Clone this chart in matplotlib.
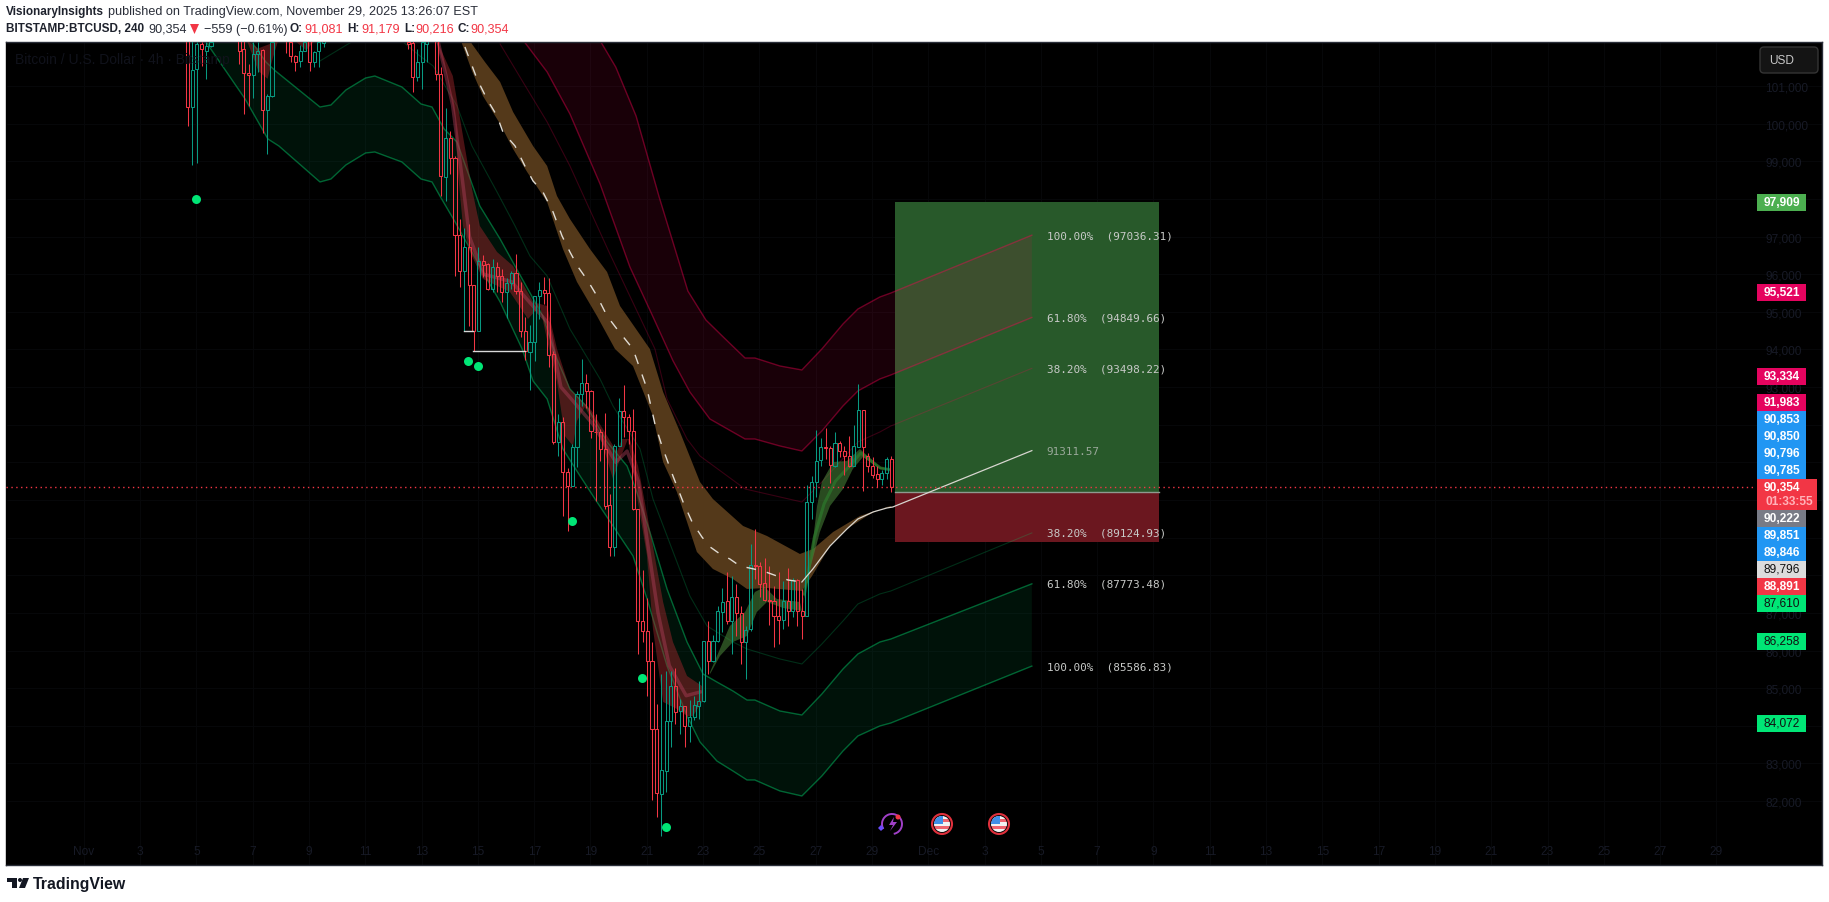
import numpy as np
import matplotlib
matplotlib.use('Agg')
import matplotlib.pyplot as plt
from matplotlib.patches import Circle, FancyBboxPatch, Polygon, Rectangle, Arc

plt.rcParams['font.family'] = ['Liberation Sans', 'DejaVu Sans']

nan = np.nan
W, H = 1829, 903

# 4h candles, days are counted from Oct 31 (1 = Nov 1). nan = above the visible range
last_candle_day = 29.686
candle_open = [
    102300, 100450, 101450, 102120, 101930, 102050, nan, nan, nan, nan,
    nan, 102300, 101970, 101340, 101280, 101850, 101960, 100350, 100730, nan,
    nan, 102500, 102160, 101810, 101670, 101940, 102300, 101630, 101940, 102140,
    nan, nan, nan, nan, nan, nan, nan, nan, nan, nan,
    nan, nan, nan, nan, nan, nan, nan, 102160, 102140, 101250,
    101630, 102120, nan, 102300, 101320, 98570, 99610, 99080, 97050, 96090,
    96710, 95700, 94500, 96340, 96270, 95610, 96180, 95940, 95520, 95760,
    96020, 95560, 94480, 93940, 94190, 95430, 95570, 95500, 93880, 91550,
    92080, 90735, 90381, 91399, 92816, 93109, 92905, 91816, 91798, 91355,
    89867, 88760, 91443, 92356, 92196, 91824, 89761, 86793, 86510, 85713,
    83915, 82188, 82808, 84119, 85049, 84385, 84517, 84004, 84225, 84535,
    84668, 86244, 85713, 86244, 87015, 87307, 86793, 87414, 86988, 86218,
    86572, 88281, 88255, 87786, 87352, 87325, 86927, 86820, 87325, 87041,
    87883, 87059, 86927, 89938, 90469, 91071, 91399, 91381, 90912, 91505,
    91311, 91178, 90894, 91399, 92382, 91160, 90894, 90682, 90558, 90708,
    91081]
candle_high = [
    102500, 102300, 102160, 102160, 102160, 102300, nan, nan, nan, nan,
    nan, 102500, 102300, 101590, 102160, 102160, 101980, 100800, 102300, nan,
    nan, 102600, 102300, 101820, 102100, 102300, 102500, 101940, 102300, 102400,
    nan, nan, nan, nan, nan, nan, nan, nan, nan, nan,
    nan, nan, nan, nan, nan, nan, nan, 102300, 102300, 101970,
    102160, 102400, nan, 102500, 101500, 100410, 99800, 99130, 97470, 97230,
    97330, 95700, 96710, 96510, 96300, 96400, 96320, 96140, 95900, 96090,
    96540, 95780, 94850, 94650, 95430, 95780, 95920, 95890, 93950, 92285,
    92196, 90841, 91488, 92905, 93746, 93348, 92931, 92285, 91886, 92311,
    90159, 91488, 92701, 93055, 92285, 92418, 89761, 88140, 87387, 86236,
    84579, 85376, 85465, 85465, 85527, 84712, 84535, 84694, 84801, 85199,
    86262, 86793, 86413, 87192, 87653, 88078, 87989, 87768, 87192, 86660,
    88831, 89229, 88344, 88450, 88255, 87723, 88078, 87856, 88193, 87918,
    87900, 87635, 90398, 90629, 91860, 91638, 91904, 91443, 91815, 91576,
    91443, 91691, 91993, 93082, 92391, 91249, 91133, 90912, 90806, 91133,
    91179]
candle_low = [
    99930, 98900, 98950, 101540, 101190, 102030, nan, nan, nan, nan,
    nan, 101590, 100260, 100480, 100670, 101360, 99750, 99190, 100700, nan,
    nan, 101880, 101650, 101410, 101500, 101940, 101410, 101500, 101500, 102030,
    nan, nan, nan, nan, nan, nan, nan, nan, nan, nan,
    nan, nan, nan, nan, nan, nan, nan, 101980, 100830, 101140,
    100920, 101650, nan, 101170, 98090, 97950, 98660, 95940, 95650, 94480,
    94630, 93950, 94500, 95920, 95590, 95520, 95520, 95250, 94830, 95610,
    95470, 94340, 93730, 92930, 93700, 94810, 95210, 93530, 91490, 91178,
    89583, 89185, 90381, 90868, 92506, 92435, 91638, 89982, 91045, 89761,
    88521, 88503, 91443, 91665, 91488, 89734, 85908, 86236, 84801, 82037,
    81568, 81063, 82232, 83428, 84048, 83782, 83446, 83578, 84163, 84181,
    84641, 85376, 85686, 86218, 86484, 86705, 85908, 86395, 85642, 85243,
    86528, 87901, 87414, 87325, 86678, 86085, 86174, 86572, 86660, 86882,
    86660, 86306, 86927, 89495, 90071, 90912, 91089, 90451, 90868, 91133,
    90664, 90868, 90894, 91399, 90248, 90735, 90575, 90336, 90398, 90558,
    90216]
candle_close = [
    100450, 101430, 102120, 101980, 102050, 102160, nan, nan, nan, nan,
    nan, 101940, 101340, 101280, 101850, 101940, 100350, 100730, 102160, nan,
    nan, 102300, 101810, 101650, 101940, 102160, 101630, 101910, 102160, 102300,
    nan, nan, nan, nan, nan, nan, nan, nan, nan, nan,
    nan, nan, nan, nan, nan, nan, nan, 102120, 101250, 101630,
    102160, 102300, nan, 101320, 98620, 99610, 99080, 97050, 96090, 96710,
    95700, 94480, 96340, 96250, 95610, 96180, 95940, 95520, 95760, 96020,
    95560, 94480, 93950, 94190, 95410, 95570, 95490, 93840, 91550, 92080,
    90735, 90381, 91399, 92816, 93109, 92905, 91824, 91798, 91355, 89849,
    88760, 91443, 92356, 92196, 91824, 89761, 86793, 86510, 85713, 83915,
    82206, 82835, 84119, 85049, 84358, 84517, 84004, 84225, 84553, 84668,
    86262, 85713, 86262, 87041, 87281, 86793, 87414, 86988, 86218, 86555,
    88281, 88255, 87768, 87352, 87325, 86927, 86820, 87325, 87059, 87883,
    87059, 86927, 89938, 90469, 91045, 91399, 91381, 90939, 91505, 91311,
    91178, 90894, 91426, 92382, 91399, 90894, 90664, 90558, 90717, 91080,
    90354]

green_lo_day = [5.2, 5.43, 6.73, 7.54, 7.93, 9.39, 9.78, 10.31, 11.01, 11.34, 12.30, 12.98, 13.37, 13.65, 14.19,
                15.18, 15.79, 16.57, 16.96, 17.46, 18.02, 18.63, 19.23, 19.80, 20.51, 21.01, 21.72, 22.43, 22.89,
                23.49, 24.06, 24.56, 24.84, 25.73, 26.51, 27.22, 27.97, 28.50, 29.28, 29.67, 34.68]
green_lo = [102500, 102071, 100655, 99592, 99406, 98450, 98529, 98901, 99220, 99247, 98981, 98529, 98450, 98078, 97387,
            96058, 95261, 94013, 93162, 92684, 91356, 90638, 89947, 89310, 88513, 87370, 85590, 84261, 83570,
            83065, 82800, 82561, 82561, 82269, 82136, 82667, 83331, 83730, 83996, 84075, 85587]
green_up_day = [5.2, 6.55, 6.97, 7.47, 7.81, 9.39, 9.78, 10.31, 11.01, 11.34, 12.30, 12.98, 13.37, 13.80, 14.26,
                15.07, 15.79, 16.32, 17.31, 17.81, 18.27, 18.88, 19.59, 20.30, 20.65, 21.11, 21.72, 22.43, 23.00,
                23.49, 24.06, 24.56, 24.84, 25.73, 26.51, 27.22, 27.97, 28.50, 29.28, 29.67, 34.68]
green_up = [103500, 102515, 102170, 101638, 101399, 100442, 100496, 100894, 101213, 101266, 100974, 100522, 100442, 99858, 99512,
            97812, 96935, 96218, 94889, 93747, 92950, 92471, 91541, 90904, 90213, 89150, 87636, 86227, 85377,
            85165, 84926, 84686, 84686, 84394, 84288, 84846, 85510, 85909, 86227, 86307, 87773]
green_mid_day = [9.39, 10.39, 11.34, 12.30, 12.94, 13.41, 14.26, 14.79, 15.68, 16.32, 16.85, 17.46, 18.27, 18.70, 19.34,
                 19.80, 20.76, 21.22, 21.72, 22.53, 23.14, 24.06, 24.56, 25.73, 26.51, 27.22, 27.97, 28.50, 29.28, 29.67, 34.68]
green_mid = [101665, 102116, 102515, 102196, 101798, 101532, 100469, 99406, 98184, 97281, 96483, 95952, 94544, 94013, 93215,
             92498, 91356, 90027, 89044, 87450, 86653, 86228, 86042, 85776, 85643, 86174, 86785, 87237, 87503, 87583, 89125]

red_up_day = [18.7, 19.37, 19.9, 20.62, 21.44, 22.46, 23.10, 23.79, 24.49, 24.84, 25.73, 26.51, 27.22, 27.97, 28.50, 29.28, 29.67, 34.68]
red_up = [103000, 102170, 101500, 100203, 98051, 95553, 94783, 94278, 93773, 93773, 93561, 93455, 94013, 94677, 95075, 95394, 95500, 97036]
red_lo_day = [16.3, 16.68, 17.46, 18.27, 19.34, 20.40, 21.2, 21.93, 22.53, 23.24, 24.49, 24.84, 25.73, 26.51, 27.22, 27.97, 28.50, 29.28, 29.67, 34.68]
red_lo = [103000, 102143, 101372, 100256, 98397, 96191, 94900, 93700, 92870, 92153, 91621, 91621, 91435, 91302, 91834, 92498, 92897, 93215, 93322, 94850]
red_mid_day = [15.79, 16.60, 17.46, 18.27, 19.69, 21.29, 21.72, 22.43, 22.89, 24.49, 26.51, 27.22, 28.50, 29.28, 29.67, 34.68]
red_mid = [102116, 101107, 100044, 98875, 96537, 94013, 92684, 91621, 91170, 90293, 89947, 90479, 91542, 91807, 91967, 93498]

brown_lo_day = [14.2, 14.44, 14.79, 15.18, 15.79, 16.25, 16.75, 17.46, 18.02, 18.52, 19.23, 19.87, 20.51, 21.22, 21.58, 22.07,
                22.43, 22.78, 23.35, 24.06, 24.56, 25.27, 26.51, 26.87, 27.51, 28.11, 28.82, 29.28, 29.67]
brown_lo = [102700, 102116, 101399, 100735, 99991, 99327, 98715, 97918, 96670, 95793, 94889, 94013, 93561, 92232, 91010, 90213,
            89416, 88619, 88167, 87901, 87636, 87662, 87583, 87981, 88778, 89230, 89575, 89761, 89814]
brown_up_day = [14.4, 14.79, 15.25, 15.79, 16.25, 16.96, 17.46, 17.81, 18.27, 18.98, 19.59, 20.05, 21.11, 21.58, 22.18, 22.89,
                23.35, 24.42, 25.27, 26.44, 26.91, 27.62, 28.57, 29.53, 29.67]
brown_up = [102700, 102116, 101638, 101107, 100310, 99406, 98875, 98078, 97467, 96670, 96058, 95155, 94013, 92870, 91807, 90479,
            90027, 89310, 89044, 88566, 88698, 89150, 89575, 89814, 89841]

basis_dash_day = [14.54, 14.97, 15.32, 15.68, 15.89, 16.32, 16.67, 16.96, 17.31, 17.67, 17.99, 18.27, 18.56, 18.91, 19.23, 19.59, 19.94,
                  20.51, 21.01, 21.29, 21.54, 21.93, 22.29, 22.61, 22.96, 23.25, 23.60, 23.95, 24.31, 25.13, 25.62, 26.01, 26.51]
basis_dash = [102037, 101186, 100655, 100203, 99778, 99406, 98875, 98476, 98184, 97653, 97015, 96590, 96191, 95819, 95421, 94889, 94544,
              94013, 92950, 92020, 91435, 90638, 89947, 89416, 89017, 88752, 88566, 88433, 88247, 88114, 87981, 87875, 87822]
basis_day = [26.51, 26.90, 27.51, 28.11, 28.50, 29.04, 29.53, 29.74, 34.68]
basis = [87822, 88167, 88778, 89230, 89496, 89682, 89788, 89814, 91312]

ribbon_r_up_day = [13.58, 14.11, 14.47, 14.79, 15.07, 15.68, 16.25, 16.96, 17.46, 17.81, 18.27, 19.05, 19.44, 19.94, 20.12, 20.40,
                   20.69, 21.04, 21.58, 21.93, 22.43, 22.96]
ribbon_r_up = [102143, 101266, 99672, 98264, 97281, 96590, 96218, 95261, 95155, 94013, 92950, 92365, 91887, 91276, 91621, 91621,
               90904, 89496, 87290, 86227, 85324, 85058]
ribbon_r_lo_day = [13.55, 13.90, 14.19, 14.29, 14.47, 14.72, 15.18, 16.14, 16.78, 17.20, 17.49, 17.81, 18.09, 18.38, 18.52, 18.80, 19.34,
                   19.80, 20.05, 20.33, 20.65, 21.01, 21.22, 21.58, 22.07, 22.43, 22.64, 22.96]
ribbon_r_lo = [102143, 101266, 100124, 98715, 97281, 96590, 95873, 95527, 94810, 95155, 94145, 93136, 91701, 91435, 92100, 92471, 91701,
               90558, 91090, 91621, 90107, 88513, 86573, 84633, 84447, 84261, 84261, 84633]
ribbon_r_mid_day = [13.6, 14.1, 14.45, 14.7, 15.2, 16.2, 16.9, 17.5, 17.95, 18.3, 19.1, 19.9, 20.3, 20.7, 21.0, 21.4, 21.8, 22.4, 22.9]
ribbon_r_mid = [102143, 100500, 98500, 97000, 96000, 95800, 95200, 94700, 93000, 92700, 92000, 91000, 91300, 90500, 89000, 87000, 85600, 84800, 84900]
blob_up_day = [6.8, 7.2, 7.9]
blob_up = [102200, 102000, 102200]
blob_lo_day = [6.8, 7.2, 7.53, 7.7, 7.9]
blob_lo = [102200, 101400, 101190, 101700, 102200]
blob2_up_day = [8.5, 9.2]
blob2_up = [102200, 102200]
blob2_lo_day = [8.5, 8.9, 9.2]
blob2_lo = [102200, 101950, 102200]

ribbon_g1_up_day = [23.25, 23.95, 24.49, 24.84, 25.19, 25.62, 26.44]
ribbon_g1_up = [85430, 86652, 87024, 87556, 87689, 87370, 87290]
ribbon_g1_lo_day = [23.25, 23.60, 24.06, 24.56, 24.91, 25.27, 25.84, 26.51]
ribbon_g1_lo = [85377, 85855, 86227, 86387, 87024, 87290, 87131, 87051]
ribbon_g2_up_day = [26.51, 26.87, 27.05, 27.22, 27.62, 28.11, 28.57, 29.28, 29.64]
ribbon_g2_up = [87104, 88698, 89841, 90479, 91010, 91037, 91356, 90877, 90824]
ribbon_g2_lo_day = [26.51, 26.80, 27.15, 27.51, 27.97, 28.32, 28.68, 29.28, 29.64]
ribbon_g2_lo = [87104, 88167, 89150, 89841, 90292, 90824, 91143, 90824, 90797]
ribbon_g2_mid_day = [26.6, 26.95, 27.3, 27.7, 28.2, 28.6, 29.3, 29.6]
ribbon_g2_mid = [87500, 89000, 89900, 90500, 90900, 91250, 90850, 90810]

dot_day = [4.99, 14.65, 15.0, 18.34, 20.83, 21.68]
dot_price = [97998, 93694, 93561, 89443, 85271, 81312]
step_day = [[14.52, 14.84], [14.84, 16.67]]
step_price = [94491, 93951]

pos_day = [29.82, 39.2]
pos_target, pos_entry, pos_stop = 97909, 90222, 88891
last_price = 90354

fib_labels = ['100.00%  (97036.31)', '61.80%  (94849.66)', '38.20%  (93498.22)', '91311.57',
              '38.20%  (89124.93)', '61.80%  (87773.48)', '100.00%  (85586.83)']
fib_prices = [97036.31, 94849.66, 93498.22, 91311.57, 89124.93, 87773.48, 85586.83]
fib_day = 35.21

price_ticks = [82000, 83000, 84000, 85000, 86000, 87000, 88000, 89000, 90000, 91000,
               92000, 93000, 94000, 95000, 96000, 97000, 98000, 99000, 100000, 101000]
# these sit fully behind the price tags on the right
covered_ticks = [84000, 88000, 89000, 90000, 91000, 92000]
day_ticks = list(range(1, 61, 2))
day_labels = ['Nov', '3', '5', '7', '9', '11', '13', '15', '17', '19', '21', '23', '25', '27', '29',
              'Dec', '3', '5', '7', '9', '11', '13', '15', '17', '19', '21', '23', '25', '27', '29']

axis_labels = ['97,909', '95,521', '93,334', '91,983', '90,853', '90,850', '90,796', '90,785',
               '90,222', '89,851', '89,846', '89,796', '88,891', '87,610', '86,258', '84,072']
axis_label_y = [203, 293, 377, 403, 420, 437, 454, 471, 519, 536, 553, 570, 587, 604, 642, 724]
axis_label_bg = ['#4caf50', '#e5045f', '#e5045f', '#e5045f', '#2196f3', '#2196f3', '#2196f3', '#2196f3',
                 '#787b86', '#2196f3', '#2196f3', '#dcdcdc', '#f23645', '#00e676', '#00e676', '#00e676']
axis_label_fg = ['white'] * 11 + ['#111111', 'white', '#111111', '#111111', '#111111']

UP, DOWN = '#089981', '#f23645'
RED_BAND, GREEN_BAND = '#ff0055', '#00e676'


def band(ax, xu, yu, xl, yl, color, alpha, line_alpha=None, lw=0.9, z=2):
    ax.fill(list(xu) + list(xl)[::-1], list(yu) + list(yl)[::-1], color=color, alpha=alpha, lw=0, zorder=z)
    if line_alpha:
        ax.plot(xu, yu, color=color, alpha=line_alpha, lw=lw, zorder=z)
        ax.plot(xl, yl, color=color, alpha=line_alpha, lw=lw, zorder=z)


def plot_candles(ax):
    days = last_candle_day - (len(candle_open) - 1 - np.arange(len(candle_open))) / 6
    for d, o, h, l, c in zip(days, candle_open, candle_high, candle_low, candle_close):
        if np.isnan(o):
            continue
        color = UP if c >= o else DOWN
        ax.plot([d, d], [max(o, c), h], color=color, lw=0.75, zorder=4, solid_capstyle='butt')
        ax.plot([d, d], [min(o, c), l], color=color, lw=0.75, zorder=4, solid_capstyle='butt')
        ax.bar(d, abs(c - o), bottom=min(o, c), width=0.11, facecolor='none', edgecolor=color, lw=0.75, zorder=4)


fig = plt.figure(figsize=(W / 100, H / 100), dpi=100, facecolor='white')
ax = fig.add_axes([6 / W, 1 - 866 / H, (1822 - 6) / W, (866 - 43) / H], facecolor='black')
ax.set_xlim(-1.764, 62.75)
ax.set_ylim(80302, 102169)

ax.fill_between(pos_day, pos_entry, pos_target, color='#28592a', lw=0, zorder=1)
ax.fill_between(pos_day, pos_stop, pos_entry, color='#6b171f', lw=0, zorder=1)
ax.plot(pos_day, [pos_entry, pos_entry], color='#8f9a8f', lw=1, zorder=1.5)

band(ax, red_up_day, red_up, red_lo_day, red_lo, RED_BAND, 0.1, 0.4, 1.0)
band(ax, green_up_day, green_up, green_lo_day, green_lo, GREEN_BAND, 0.08, 0.42, 1.0)
ax.plot(red_mid_day, red_mid, color=RED_BAND, alpha=0.22, lw=0.8, zorder=2)
ax.plot(green_mid_day, green_mid, color=GREEN_BAND, alpha=0.2, lw=0.8, zorder=2)
band(ax, brown_up_day, brown_up, brown_lo_day, brown_lo, '#54391a', 1.0)

band(ax, ribbon_r_up_day, ribbon_r_up, ribbon_r_lo_day, ribbon_r_lo, '#a8282e', 0.45, z=3)
band(ax, blob_up_day, blob_up, blob_lo_day, blob_lo, '#a8282e', 0.45, z=3)
band(ax, blob2_up_day, blob2_up, blob2_lo_day, blob2_lo, '#a8282e', 0.45, z=3)
ax.plot(ribbon_r_mid_day, ribbon_r_mid, color='#b0405a', lw=2.5, alpha=0.45, zorder=3)
band(ax, ribbon_g1_up_day, ribbon_g1_up, ribbon_g1_lo_day, ribbon_g1_lo, '#4c8a3c', 0.55, z=3)
band(ax, ribbon_g2_up_day, ribbon_g2_up, ribbon_g2_lo_day, ribbon_g2_lo, '#4c8a3c', 0.55, z=3)
ax.plot(ribbon_g2_mid_day, ribbon_g2_mid, color='#2c7a2c', lw=2.2, alpha=0.7, zorder=3)

plot_candles(ax)

ax.plot(basis_dash_day, basis_dash, color='#e0dcd4', lw=1.0, dashes=(7, 8), zorder=5)
ax.plot(basis_day, basis, color='#d8d6d0', lw=0.9, zorder=5)
for days, p in zip(step_day, step_price):
    ax.plot(days, [p, p], color='#d8d8d8', lw=1.0, zorder=5)
ax.scatter(dot_day, dot_price, s=42, color='#00e676', lw=0, zorder=6)
ax.axhline(last_price, xmax=(1753 - 6) / (1822 - 6), color='#f23645', lw=1, dashes=(1, 2.5), zorder=5)

for label, p in zip(fib_labels, fib_prices):
    col = '#9aa89a' if label == '91311.57' else '#c8cac8'
    ax.text(fib_day, p, label, family='DejaVu Sans Mono', fontsize=7.9, color=col, va='center', ha='left', zorder=7)

ax.set_xticks(day_ticks, day_labels)
ax.set_yticks(price_ticks, ['' if p in covered_ticks else '{:,}'.format(p) for p in price_ticks])
ax.yaxis.tick_right()
ax.tick_params(axis='x', length=0, pad=-14.5, labelsize=8.6, labelcolor='#171a26')
ax.tick_params(axis='y', length=0, pad=-41, labelsize=8.6, labelcolor='#171a26')
ax.grid(color='#060709', lw=0.8, zorder=0)
ax.set_axisbelow(True)
for s in ax.spines.values():
    s.set_color('#2a2e39')
    s.set_linewidth(1)
ax.spines['left'].set_color('black')

# page furniture in pixel coordinates
ov = fig.add_axes([0, 0, 1, 1])
ov.set_xlim(0, W)
ov.set_ylim(H, 0)
ov.axis('off')

ov.text(15, 60, 'Bitcoin / U.S. Dollar · 4h · Bitstamp', fontsize=10, color='#10121b', va='center')

for txt, y, bg, fg in zip(axis_labels, axis_label_y, axis_label_bg, axis_label_fg):
    ov.add_patch(Rectangle((1757, y - 8.5), 49, 17, color=bg, lw=0))
    ov.text(1781.5, y, txt, color=fg, fontsize=8.6, ha='center', va='center', weight='bold' if fg == 'white' else 'normal')
ov.add_patch(Rectangle((1757, 480), 60, 31, color='#f23645', lw=0))
ov.text(1781.5, 488, '90,354', color='white', fontsize=8.6, ha='center', va='center', weight='bold')
ov.text(1765, 502, '01:33:55', color='#ffb3ba', fontsize=8.6, ha='left', va='center', weight='bold')

ov.add_patch(FancyBboxPatch((1760, 48), 58, 26, boxstyle='round,pad=0,rounding_size=4',
                            facecolor='#141414', edgecolor='#343434', lw=1))
ov.text(1769, 61, 'USD', color='#c8c8c8', fontsize=8.6, va='center')

# header
HEAD = 9.1
HEAD_BOLD = 8.5
ov.text(6, 12.5, 'VisionaryInsights', color='#1e222d', fontsize=HEAD_BOLD, weight='bold', va='center')
ov.text(108, 12.5, 'published on TradingView.com, November 29, 2025 13:26:07 EST', color='#2a2e39', fontsize=HEAD, va='center')
ov.text(6, 29.5, 'BITSTAMP:BTCUSD, 240', color='#1e222d', fontsize=HEAD_BOLD, weight='bold', va='center')
ov.text(148, 29.5, '90,354', color='#2a2e39', fontsize=HEAD, va='center')
ov.add_patch(Polygon([(190, 25), (199, 25), (194.5, 35)], color='#f23645', lw=0))
ov.text(204, 29.5, '−559 (−0.61%)', color='#2a2e39', fontsize=HEAD, va='center')
for x, head, xv, val in [(290, 'O:', 304, '91,081'), (347, 'H:', 361, '91,179'),
                         (404, 'L:', 415, '90,216'), (458, 'C:', 470, '90,354')]:
    ov.text(x, 29.5, head, color='#1e222d', fontsize=HEAD_BOLD, weight='bold', va='center')
    ov.text(xv, 29.5, val, color='#f23645', fontsize=HEAD, va='center')

# bottom logo
ov.add_patch(Rectangle((7, 879), 10, 4, color='#131722', lw=0))
ov.add_patch(Rectangle((12, 879), 5, 10, color='#131722', lw=0))
ov.add_patch(Circle((20, 881), 2, color='#131722', lw=0))
ov.add_patch(Polygon([(23, 879), (29, 879), (25, 889), (19, 889)], color='#131722', lw=0))
ov.text(33, 885, 'TradingView', color='#131722', fontsize=11.4, weight='bold', va='center')

# event icons
for cx in [942, 999]:
    ring = Circle((cx, 825), 10, facecolor='#0a0a0a', edgecolor='#e0303c', lw=1.5)
    ov.add_patch(ring)
    clip = Circle((cx, 825), 8, transform=ov.transData)
    for i, yy in enumerate(np.arange(817, 833, 3.2)):
        r = ov.add_patch(Rectangle((cx - 8, yy), 16, 3.2, color='#f0636e' if i % 2 else '#f2f2f2', lw=0))
        r.set_clip_path(clip)
    r = ov.add_patch(Rectangle((cx - 8, 817), 9, 8, color='#3f8fe8', lw=0))
    r.set_clip_path(clip)
ov.add_patch(Arc((892, 825), 20, 20, theta1=-210, theta2=80, color='#a040c8', lw=1.4))
ov.add_patch(Polygon([(894, 818), (889, 826), (893, 826), (890, 832), (897, 823), (893, 823)], color='#a040c8', lw=0))
ov.add_patch(Polygon([(881, 826), (884, 829), (881, 832), (878, 829)], color='#6a4cff', lw=0))
ov.add_patch(Circle((898, 818), 2.5, color='#f23645', lw=0))

fig.savefig('out.png', dpi=100, facecolor='white')
